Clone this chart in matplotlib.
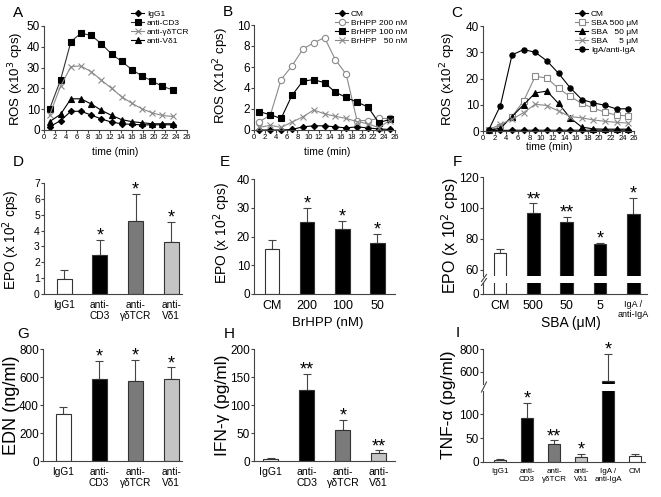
import numpy as np
import matplotlib.pyplot as plt
from matplotlib.lines import Line2D

plt.rcParams['font.family'] = ['Liberation Sans', 'DejaVu Sans']

W, H = 661, 497

# A: ROS (x10^3 cps) after antibody stimulation
time_a = [1, 3, 4.9, 6.7, 8.6, 10.4, 12.3, 14.1, 16, 17.8, 19.7, 21.5, 23.4]
ros_a_igg1 = [1.5, 4.5, 9, 9, 7.2, 5.3, 3.8, 3, 2.7, 2.5, 2.5, 2.5, 2.5]
ros_a_cd3 = [10, 24, 42.5, 46.5, 45.5, 41.5, 36.5, 33, 29, 26, 23.5, 21, 19.3]
ros_a_gdtcr = [7, 21, 30.5, 30.8, 28, 24, 20, 16, 12.8, 10.2, 8.2, 7, 6.5]
ros_a_vd1 = [4, 7.5, 15, 15, 12.5, 9.5, 7, 5, 4, 3.5, 3, 3, 3]

# B: ROS (x10^2 cps) with BrHPP
time_b = [1, 3, 5, 7, 9, 11, 13, 15, 17, 19, 21, 23, 25]
ros_b_cm = [0, 0, 0, 0.05, 0.3, 0.4, 0.4, 0.3, 0.2, 0.3, 0.2, 0.1, 0.05]
ros_b_200 = [0.8, 1.4, 4.8, 6.1, 7.7, 8.3, 8.8, 6.7, 5.3, 0.9, 0.9, 1.1, 1.1]
ros_b_100 = [1.75, 1.45, 1.1, 3.3, 4.65, 4.8, 4.5, 3.6, 3.1, 2.65, 2.2, 0.7, 1.0]
ros_b_50 = [0.25, 0.45, 0.25, 0.75, 1.25, 1.9, 1.55, 1.3, 1.1, 0.8, 0.6, 0.22, 0.9]

# C: ROS (x10^2 cps) with SBA
time_c = [1, 3, 5, 7, 9, 11, 13, 15, 17, 19, 21, 23, 25]
ros_c_cm = [0.2, 0.2, 0.3, 0.3, 0.3, 0.3, 0.3, 0.3, 0.3, 0.3, 0.3, 0.3, 0.3]
ros_c_500 = [0.5, 1.5, 5.5, 11.5, 20.8, 20.2, 16.2, 13.2, 10.5, 8.7, 7.2, 6, 5.8]
ros_c_50 = [0.3, 1, 5.5, 10, 14.5, 15.2, 10.5, 5, 1.5, 0.8, 0.7, 0.7, 0.7]
ros_c_5 = [0.5, 2.5, 4.5, 7, 10.2, 9.7, 7.6, 5.5, 5, 4.2, 3.7, 3.3, 3]
ros_c_iga = [0.5, 9.7, 29, 31, 30, 26.7, 22, 16.5, 12, 10.7, 9.8, 8.4, 8.5]

ab_labels = ['IgG1', 'anti-\nCD3', 'anti-\nγδTCR', 'anti-\nVδ1']

# D: EPO (x10^2 cps)
epo_d = [0.95, 2.45, 4.6, 3.3]
epo_d_err = [0.55, 0.95, 1.7, 1.25]
epo_d_stars = ['', '*', '*', '*']

# E: EPO with BrHPP
brhpp_labels = ['CM', '200', '100', '50']
epo_e = [15.8, 25, 22.7, 17.7]
epo_e_err = [3, 5, 2.8, 3.3]
epo_e_stars = ['', '*', '*', '*']

# F: EPO with SBA
sba_labels = ['CM', '500', '50', '5', 'IgA /\nanti-IgA']
epo_f = [71, 97, 91, 76.8, 96]
epo_f_err = [2.7, 6, 3.5, 0.8, 10.5]
epo_f_stars = ['', '**', '**', '*', '*']

# G: EDN (ng/ml)
edn_g = [335, 585, 570, 588]
edn_g_err = [50, 130, 150, 80]
edn_g_stars = ['', '*', '*', '*']

# H: IFN-gamma (pg/ml)
ifn_h = [4, 127, 55, 13.5]
ifn_h_err = [1.5, 29, 19, 5.5]
ifn_h_stars = ['', '**', '*', '**']

# I: TNF-alpha (pg/ml)
tnf_labels = ['IgG1', 'anti-\nCD3', 'anti-\nγδTCR', 'anti-\nVδ1', 'IgA /\nanti-IgA', 'CM']
tnf_i = [5, 91, 38.5, 11.3, 517, 12.7]
tnf_i_err = [2, 31.5, 6.5, 5.7, 239, 4.5]
tnf_i_stars = ['', '*', '**', '*', '*', '']

WHITE, BLACK, GRAY, LIGHT = 'white', 'black', '#7a7a7a', '#c4c4c4'
SPINE = '#444444'

fig = plt.figure(figsize=(W / 100, H / 100), dpi=100)


def box(l, t, r, b):
    return [l / W, 1 - b / H, (r - l) / W, (b - t) / H]


def style(ax, bottom=True):
    for s in ['top', 'right']:
        ax.spines[s].set_visible(False)
    for s in ['left', 'bottom']:
        ax.spines[s].set_color(SPINE)
        ax.spines[s].set_linewidth(0.8)
    if not bottom:
        ax.spines['bottom'].set_visible(False)
        ax.set_xticks([])
    ax.tick_params(direction='out', length=2, width=0.8, color=SPINE, pad=1)


def ftext(x, y, s, size, **kw):
    fig.text(x / W, 1 - y / H, s, fontsize=size, ha='center', va='center', **kw)


def slash(x, y, dx=2.5, dy=3.5):
    fig.add_artist(Line2D([(x - dx) / W, (x + dx) / W],
                          [1 - (y + dy) / H, 1 - (y - dy) / H],
                          color=SPINE, lw=0.8))


def line_panel(rect, ylim, yticks, series, leg_xy):
    ax = fig.add_axes(box(*rect))
    style(ax)
    for x, y, lab, lc, mk, mfc, mec, ms in series:
        ax.plot(x, y, color=lc, lw=0.8, marker=mk, mfc=mfc, mec=mec,
                ms=ms, mew=0.8, label=lab, clip_on=False)
    ax.set_xlim(0, 26)
    ax.set_ylim(*ylim)
    ax.set_xticks(np.arange(0, 27, 2))
    ax.set_yticks(yticks)
    ax.tick_params(axis='x', labelsize=5.5, length=2)
    ax.tick_params(axis='y', labelsize=8.5)
    ax.legend(loc='upper left', bbox_to_anchor=(leg_xy[0] / W, 1 - leg_xy[1] / H),
              bbox_transform=fig.transFigure, frameon=False, fontsize=6,
              borderpad=0, labelspacing=0.15, handlelength=1.6,
              handletextpad=0.3, borderaxespad=0)
    return ax


def bars(ax, vals, errs, colors, width, stars=None, star_size=13):
    xs = np.arange(len(vals))
    ax.bar(xs, vals, width, color=colors, edgecolor='#333333', linewidth=0.8, zorder=2)
    ax.errorbar(xs, vals, yerr=[np.zeros(len(vals)), errs], fmt='none',
                ecolor=SPINE, elinewidth=0.8, capsize=3, capthick=0.8, zorder=1)
    if stars:
        lo, hi = ax.get_ylim()
        for x, v, e, s in zip(xs, vals, errs, stars):
            if s and lo <= v + e <= hi:
                ax.annotate(s, (x, v + e), xytext=(0, -0.5), textcoords='offset points',
                            ha='center', va='baseline', fontsize=star_size)


# ---------------- row 1: ROS kinetics ----------------
ax = line_panel((44, 26, 187, 130), (0, 50), [0, 10, 20, 30, 40, 50], [
    (time_a, ros_a_igg1, 'IgG1', 'black', 'D', 'black', 'black', 3.2),
    (time_a, ros_a_cd3, 'anti-CD3', '#333333', 's', 'black', 'black', 3.8),
    (time_a, ros_a_gdtcr, 'anti-γδTCR', '#8a8a8a', 'x', 'none', '#8a8a8a', 3.8),
    (time_a, ros_a_vd1, 'anti-Vδ1', 'black', '^', 'black', 'black', 3.8),
], (131, 10))
ftext(16, 79, 'ROS (x10$^3$ cps)', 9.5, rotation=90)
ftext(115, 152, 'time (min)', 7.5)

ax = line_panel((254, 25, 395, 130), (0, 10), [0, 2, 4, 6, 8, 10], [
    (time_b, ros_b_cm, 'CM', 'black', 'D', 'black', 'black', 3.2),
    (time_b, ros_b_200, 'BrHPP 200 nM', '#8a8a8a', 'o', 'white', '#8a8a8a', 4.5),
    (time_b, ros_b_100, 'BrHPP 100 nM', 'black', 's', 'black', 'black', 3.8),
    (time_b, ros_b_50, 'BrHPP   50 nM', '#8a8a8a', 'x', 'none', '#8a8a8a', 3.8),
], (335, 10))
ftext(221, 76, 'ROS (X10$^2$ cps)', 9.5, rotation=90)
ftext(327, 152, 'time (min)', 7.5)

ax = line_panel((483, 26, 634, 131), (0, 40), [0, 10, 20, 30, 40], [
    (time_c, ros_c_cm, 'CM', 'black', 'D', 'black', 'black', 3.2),
    (time_c, ros_c_500, 'SBA 500 μM', '#8a8a8a', 's', 'white', '#8a8a8a', 4.2),
    (time_c, ros_c_50, 'SBA   50 μM', 'black', '^', 'black', 'black', 3.8),
    (time_c, ros_c_5, 'SBA     5 μM', '#8a8a8a', 'x', 'none', '#8a8a8a', 3.8),
    (time_c, ros_c_iga, 'IgA/anti-IgA', 'black', 'o', 'black', 'black', 3.8),
], (575, 10))
ftext(448, 79, 'ROS (x10$^2$ cps)', 9.5, rotation=90)
ftext(549, 147, 'time (min)', 7.5)

# ---------------- row 2: EPO ----------------
ax = fig.add_axes(box(44, 183, 182, 294))
style(ax)
ax.set_ylim(0, 7)
ax.set_xlim(-0.56, 3.3)
bars(ax, epo_d, epo_d_err, [WHITE, BLACK, GRAY, LIGHT], 0.42, epo_d_stars)
ax.set_yticks(range(8))
ax.set_xticks(range(4))
ax.set_xticklabels(ab_labels, fontsize=7.3)
ax.tick_params(axis='y', labelsize=7.5)
ax.tick_params(axis='x', length=0, pad=4)
ftext(11, 240, 'EPO (x 10$^2$ cps)', 9.8, rotation=90)

ax = fig.add_axes(box(254, 179, 395, 294))
style(ax)
ax.set_ylim(0, 40)
ax.set_xlim(-0.51, 3.5)
bars(ax, epo_e, epo_e_err, [WHITE, BLACK, BLACK, BLACK], 0.42, epo_e_stars)
ax.set_yticks([0, 10, 20, 30, 40])
ax.set_xticks(range(4))
ax.set_xticklabels(brhpp_labels, fontsize=9)
ax.tick_params(axis='y', labelsize=8.5)
ax.tick_params(axis='x', length=0, pad=4)
ftext(222, 233, 'EPO (x 10$^2$ cps)', 10, rotation=90)
ftext(328, 323, 'BrHPP (nM)', 9.5)

f_up = fig.add_axes(box(483, 177, 647, 276))
f_lo = fig.add_axes(box(483, 283, 647, 294))
style(f_up, bottom=False)
style(f_lo)
f_up.set_ylim(56.1, 120)
f_lo.set_ylim(0, 7)
for a in (f_up, f_lo):
    a.set_xlim(-0.51, 4.41)
bars(f_up, epo_f, epo_f_err, [WHITE] + [BLACK] * 4, 0.38, epo_f_stars)
bars(f_lo, epo_f, epo_f_err, [WHITE] + [BLACK] * 4, 0.38)
f_up.set_yticks([60, 80, 100, 120])
f_lo.set_yticks([0])
f_up.tick_params(axis='y', labelsize=8.5)
f_lo.tick_params(axis='y', labelsize=8.5)
f_lo.set_xticks(range(5))
f_lo.set_xticklabels(sba_labels, fontsize=9)
f_lo.get_xticklabels()[-1].set_fontsize(6.5)
f_lo.tick_params(axis='x', length=0, pad=4)
slash(484, 278)
slash(484, 282)
ftext(450, 235, 'EPO (x 10$^2$ cps)', 11.5, rotation=90)
ftext(571, 323, 'SBA (μM)', 10)

# ---------------- row 3: cytokines ----------------
ax = fig.add_axes(box(43, 349, 182, 461))
style(ax)
ax.set_ylim(0, 800)
ax.set_xlim(-0.56, 3.3)
bars(ax, edn_g, edn_g_err, [WHITE, BLACK, GRAY, LIGHT], 0.42, edn_g_stars)
ax.set_yticks([0, 200, 400, 600, 800])
ax.set_xticks(range(4))
ax.set_xticklabels(ab_labels, fontsize=7.3)
ax.tick_params(axis='y', labelsize=8.5)
ax.tick_params(axis='x', length=0, pad=4)
ftext(12, 405, 'EDN (ng/ml)', 13, rotation=90)

ax = fig.add_axes(box(254, 349, 395, 461))
style(ax)
ax.set_ylim(0, 200)
ax.set_xlim(-0.47, 3.45)
bars(ax, ifn_h, ifn_h_err, [WHITE, BLACK, GRAY, LIGHT], 0.42, ifn_h_stars)
ax.set_yticks([0, 50, 100, 150, 200])
ax.set_xticks(range(4))
ax.set_xticklabels(ab_labels, fontsize=7.6)
ax.tick_params(axis='y', labelsize=8.5)
ax.tick_params(axis='x', length=0, pad=4)
ftext(222, 405, 'IFN-γ (pg/ml)', 12.5, rotation=90)

i_up = fig.add_axes(box(483, 349, 645, 384))
i_lo = fig.add_axes(box(483, 391, 645, 462))
style(i_up, bottom=False)
style(i_lo)
i_up.set_ylim(492, 800)
i_lo.set_ylim(0, 148)
tnf_colors = ['#e6e6e6', BLACK, GRAY, LIGHT, BLACK, WHITE]
for a in (i_up, i_lo):
    a.set_xlim(-0.63, 5.37)
    bars(a, tnf_i, tnf_i_err, tnf_colors, 0.48, tnf_i_stars)
i_up.set_yticks([600, 800])
i_lo.set_yticks([0, 50, 100])
i_up.tick_params(axis='y', labelsize=8.5)
i_lo.tick_params(axis='y', labelsize=8.5)
i_lo.set_xticks(range(6))
i_lo.set_xticklabels(tnf_labels, fontsize=5.8)
i_lo.tick_params(axis='x', length=0, pad=4)
slash(484, 387, dx=2.5, dy=5)
ftext(448, 405, 'TNF-α (pg/ml)', 12.5, rotation=90)

# panel letters
for lab, x, y in [('A', 18, 13), ('B', 228, 12), ('C', 457, 13),
                  ('D', 18, 162), ('E', 225, 162), ('F', 457, 162),
                  ('G', 23, 334), ('H', 229, 334), ('I', 458, 333)]:
    ftext(x, y, lab, 11)

fig.savefig('out.png', dpi=100)
